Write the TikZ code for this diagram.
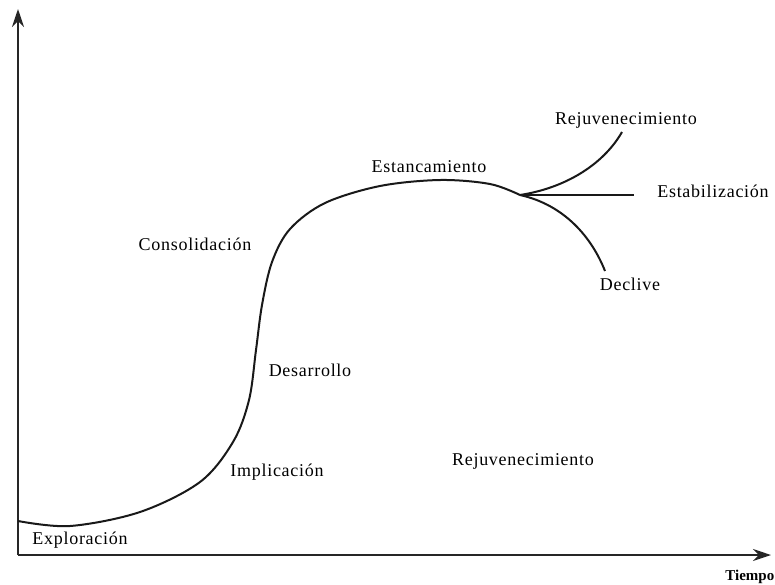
\documentclass[tikz,border=0pt]{standalone}
\usepackage{fontspec}
\setmainfont{Liberation Serif}[LetterSpace=4]
\newfontfamily\tiempofont{Liberation Serif}[LetterSpace=0]
\usetikzlibrary{arrows.meta}
\tikzset{
  axis/.style={line width=2.4pt, draw=black!85, -{Stealth[length=18pt,width=12pt]}},
  curve/.style={line width=2pt, draw=black!90},
  lbl/.style={font=\fontsize{18}{20}\selectfont, inner sep=0pt, text=black},
}
\begin{document}
\begin{tikzpicture}[x=1pt,y=-1pt]
\useasboundingbox (0,0) rectangle (775,584);
\coordinate (O) at (18,555);
\coordinate (ytip) at (18,9);
\coordinate (xtip) at (771,555);
\draw[axis] (O) -- (ytip);
\draw[axis] (O) -- (xtip);
\coordinate (start) at (18,521);
\coordinate (B) at (520,195);
\coordinate (rtip) at (622,132);
\coordinate (etip) at (634,195);
\coordinate (dtip) at (605,271);
\draw[curve] plot[smooth, tension=0.55] coordinates {(18,521) (70,526) (140,512) (200,482) (233,442) (249,400) (256,350) (262,305) (272,262) (290,229) (325,203) (380,186) (440,180) (490,184) (520,195)};
\draw[curve] (B) .. controls (565,188) and (603,165) .. (rtip);
\draw[curve] (B) -- (etip);
\draw[curve] (B) .. controls (565,205) and (592,238) .. (dtip);
\node[lbl] (exp) at (80,540) {Exploración};
\node[lbl] (imp) at (277,472) {Implicación};
\node[lbl] (des) at (310,370) {Desarrollo};
\node[lbl] (con) at (195,244) {Consolidación};
\node[lbl] (est) at (429,167) {Estancamiento};
\node[lbl] (rej1) at (626,120) {Rejuvenecimiento};
\node[lbl] (stab) at (713,191) {Estabilización};
\node[lbl] (dec) at (630,284) {Declive};
\node[lbl] (rej2) at (523,461) {Rejuvenecimiento};
\node[lbl, font=\tiempofont\fontsize{15}{17}\selectfont\bfseries, anchor=east] (tiempo) at (774.5,577) {Tiempo};
\end{tikzpicture}
\end{document}
